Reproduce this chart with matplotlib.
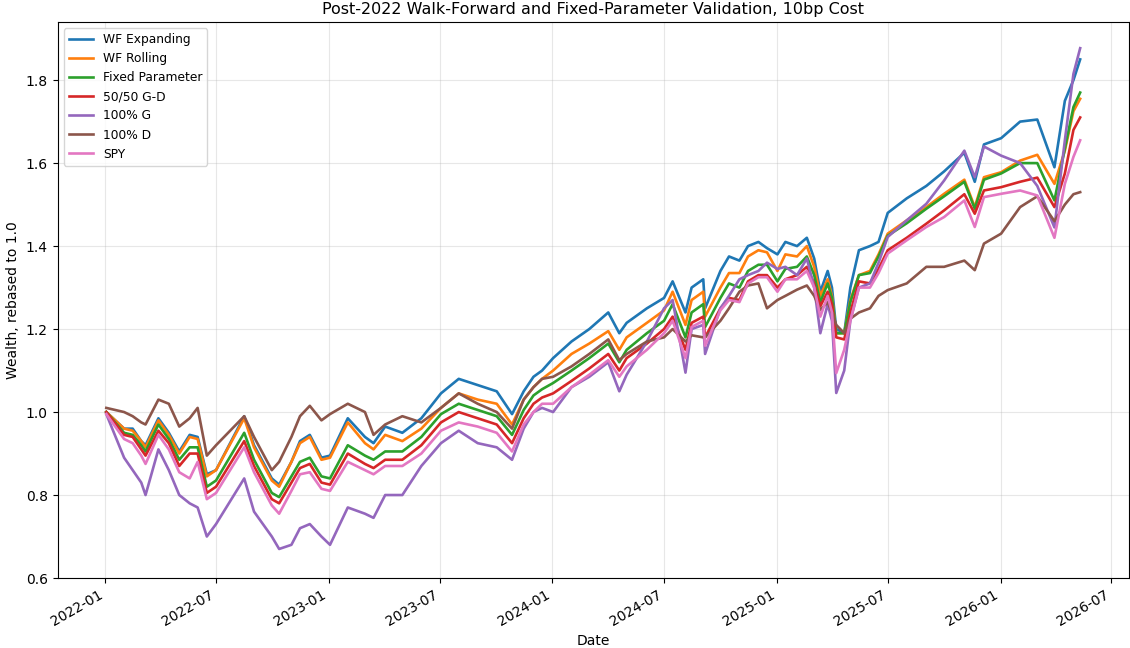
import numpy as np
import pandas as pd
import matplotlib
matplotlib.use("Agg")
import matplotlib.pyplot as plt
import matplotlib.dates as mdates

# ---- data (wealth, rebased to 1.0) ----
dates = [
    "2022-01-03", "2022-02-01", "2022-02-15", "2022-03-01", "2022-03-08", "2022-03-29",
    "2022-04-15", "2022-05-02", "2022-05-19", "2022-06-01", "2022-06-16", "2022-07-01",
    "2022-08-16", "2022-09-01", "2022-09-30", "2022-10-12", "2022-11-01", "2022-11-15",
    "2022-12-01", "2022-12-20", "2023-01-03", "2023-02-01", "2023-03-01", "2023-03-15",
    "2023-04-03", "2023-05-01", "2023-06-01", "2023-07-03", "2023-08-01", "2023-09-01",
    "2023-10-02", "2023-10-27", "2023-11-15", "2023-12-01", "2023-12-15", "2024-01-02",
    "2024-02-01", "2024-03-01", "2024-04-01", "2024-04-19", "2024-05-01", "2024-06-03",
    "2024-07-01", "2024-07-15", "2024-08-05", "2024-08-15", "2024-09-03", "2024-09-06",
    "2024-10-01", "2024-10-15", "2024-11-01", "2024-11-15", "2024-12-02", "2024-12-16",
    "2025-01-02", "2025-01-15", "2025-02-03", "2025-02-19", "2025-03-03", "2025-03-13",
    "2025-03-25", "2025-04-01", "2025-04-08", "2025-04-21", "2025-05-01", "2025-05-15",
    "2025-06-02", "2025-06-16", "2025-07-01", "2025-08-01", "2025-09-02", "2025-10-01",
    "2025-11-03", "2025-11-20", "2025-12-05", "2026-01-02", "2026-02-02", "2026-03-02",
    "2026-03-30", "2026-04-16", "2026-04-30", "2026-05-11",
]

wf_expanding = [
    1.00, 0.96, 0.96, 0.93, 0.92, 0.985, 0.95, 0.905, 0.945, 0.94, 0.85, 0.86,
    0.99, 0.92, 0.84, 0.825, 0.88, 0.93, 0.945, 0.89, 0.895, 0.985, 0.94, 0.925,
    0.965, 0.95, 0.985, 1.045, 1.08, 1.065, 1.05, 0.995, 1.05, 1.085, 1.10, 1.13,
    1.17, 1.20, 1.24, 1.19, 1.215, 1.25, 1.275, 1.315, 1.24, 1.30, 1.32, 1.25,
    1.34, 1.375, 1.365, 1.40, 1.41, 1.395, 1.38, 1.41, 1.40, 1.42, 1.37, 1.29,
    1.34, 1.30, 1.20, 1.19, 1.30, 1.39, 1.40, 1.41, 1.48, 1.515, 1.545, 1.58,
    1.625, 1.555, 1.645, 1.66, 1.70, 1.705, 1.59, 1.75, 1.80, 1.85,
]
wf_rolling = [
    1.00, 0.96, 0.955, 0.93, 0.915, 0.98, 0.945, 0.90, 0.94, 0.935, 0.845, 0.86,
    0.985, 0.915, 0.835, 0.82, 0.88, 0.925, 0.94, 0.885, 0.89, 0.975, 0.925, 0.91,
    0.945, 0.93, 0.96, 1.01, 1.045, 1.03, 1.02, 0.97, 1.03, 1.06, 1.08, 1.10,
    1.14, 1.165, 1.195, 1.15, 1.18, 1.215, 1.245, 1.29, 1.21, 1.27, 1.29, 1.23,
    1.30, 1.335, 1.335, 1.375, 1.39, 1.385, 1.34, 1.38, 1.375, 1.40, 1.35, 1.28,
    1.32, 1.28, 1.19, 1.19, 1.27, 1.33, 1.34, 1.38, 1.43, 1.462, 1.494, 1.526,
    1.56, 1.494, 1.566, 1.578, 1.606, 1.62, 1.55, 1.63, 1.725, 1.755,
]
fixed_param = [
    1.00, 0.95, 0.945, 0.92, 0.905, 0.97, 0.935, 0.885, 0.915, 0.915, 0.82, 0.835,
    0.95, 0.885, 0.805, 0.795, 0.845, 0.88, 0.89, 0.845, 0.84, 0.92, 0.895, 0.885,
    0.905, 0.905, 0.94, 0.995, 1.02, 1.005, 0.99, 0.945, 1.005, 1.04, 1.055, 1.07,
    1.10, 1.13, 1.165, 1.12, 1.15, 1.19, 1.22, 1.26, 1.18, 1.24, 1.26, 1.205,
    1.275, 1.31, 1.30, 1.34, 1.355, 1.355, 1.315, 1.345, 1.35, 1.375, 1.33, 1.265,
    1.31, 1.275, 1.19, 1.19, 1.265, 1.33, 1.335, 1.375, 1.425, 1.455, 1.49, 1.52,
    1.555, 1.49, 1.56, 1.575, 1.60, 1.60, 1.51, 1.635, 1.735, 1.77,
]
gd_5050 = [
    1.00, 0.945, 0.94, 0.91, 0.895, 0.955, 0.925, 0.87, 0.90, 0.90, 0.805, 0.82,
    0.93, 0.87, 0.79, 0.78, 0.83, 0.865, 0.875, 0.83, 0.825, 0.90, 0.875, 0.865,
    0.885, 0.885, 0.92, 0.975, 1.00, 0.985, 0.97, 0.925, 0.985, 1.02, 1.035, 1.045,
    1.075, 1.105, 1.14, 1.10, 1.13, 1.165, 1.20, 1.23, 1.15, 1.215, 1.23, 1.18,
    1.25, 1.275, 1.27, 1.315, 1.33, 1.33, 1.30, 1.32, 1.33, 1.35, 1.31, 1.255,
    1.29, 1.26, 1.18, 1.175, 1.24, 1.315, 1.31, 1.345, 1.39, 1.42, 1.454, 1.486,
    1.525, 1.478, 1.534, 1.542, 1.555, 1.565, 1.494, 1.575, 1.68, 1.71,
]
g_100 = [
    0.995, 0.89, 0.86, 0.83, 0.80, 0.91, 0.86, 0.80, 0.78, 0.77, 0.70, 0.73,
    0.84, 0.76, 0.70, 0.67, 0.68, 0.72, 0.73, 0.70, 0.68, 0.77, 0.755, 0.745,
    0.80, 0.80, 0.87, 0.925, 0.955, 0.925, 0.915, 0.885, 0.96, 1.00, 1.01, 1.00,
    1.06, 1.085, 1.12, 1.05, 1.09, 1.17, 1.25, 1.27, 1.095, 1.20, 1.21, 1.14,
    1.25, 1.28, 1.32, 1.33, 1.34, 1.36, 1.345, 1.35, 1.33, 1.37, 1.30, 1.19,
    1.26, 1.22, 1.046, 1.10, 1.22, 1.30, 1.31, 1.36, 1.422, 1.462, 1.502, 1.558,
    1.63, 1.566, 1.64, 1.618, 1.60, 1.545, 1.445, 1.655, 1.815, 1.877,
]
d_100 = [
    1.01, 1.00, 0.99, 0.975, 0.97, 1.03, 1.02, 0.965, 0.985, 1.01, 0.895, 0.92,
    0.99, 0.94, 0.86, 0.88, 0.94, 0.99, 1.015, 0.98, 0.995, 1.02, 1.00, 0.945,
    0.97, 0.99, 0.975, 1.01, 1.045, 1.02, 1.00, 0.96, 1.03, 1.06, 1.08, 1.085,
    1.11, 1.14, 1.175, 1.125, 1.14, 1.17, 1.18, 1.20, 1.17, 1.185, 1.18, 1.18,
    1.22, 1.25, 1.29, 1.305, 1.31, 1.25, 1.27, 1.28, 1.295, 1.305, 1.28, 1.246,
    1.265, 1.24, 1.21, 1.19, 1.225, 1.24, 1.25, 1.28, 1.294, 1.31, 1.35, 1.35,
    1.365, 1.342, 1.406, 1.43, 1.494, 1.52, 1.46, 1.50, 1.525, 1.53,
]
spy = [
    0.995, 0.935, 0.925, 0.895, 0.875, 0.945, 0.91, 0.855, 0.84, 0.88, 0.79, 0.805,
    0.915, 0.855, 0.775, 0.755, 0.81, 0.85, 0.855, 0.815, 0.81, 0.88, 0.86, 0.85,
    0.87, 0.87, 0.90, 0.955, 0.975, 0.965, 0.95, 0.905, 0.97, 1.00, 1.02, 1.02,
    1.06, 1.09, 1.125, 1.085, 1.11, 1.15, 1.19, 1.22, 1.13, 1.205, 1.22, 1.16,
    1.245, 1.27, 1.265, 1.31, 1.325, 1.325, 1.29, 1.32, 1.32, 1.34, 1.30, 1.23,
    1.28, 1.24, 1.094, 1.15, 1.22, 1.30, 1.30, 1.335, 1.382, 1.414, 1.446, 1.47,
    1.51, 1.446, 1.518, 1.526, 1.534, 1.522, 1.42, 1.55, 1.615, 1.655,
]

labels = ["WF Expanding", "WF Rolling", "Fixed Parameter", "50/50 G-D",
          "100% G", "100% D", "SPY"]
colors = ["#1f77b4", "#ff7f0e", "#2ca02c", "#d62728", "#9467bd", "#8c564b", "#e377c2"]

df = pd.DataFrame({lab: vals for lab, vals in zip(
    labels, [wf_expanding, wf_rolling, fixed_param, gd_5050, g_100, d_100, spy])},
    index=pd.to_datetime(dates))

fig, ax = plt.subplots(figsize=(11.3, 6.48), dpi=100)
fig.subplots_adjust(left=0.051, right=0.999, bottom=0.108, top=0.966)

for lab, col in zip(labels, colors):
    ax.plot(df.index, df[lab], color=col, lw=1.9, label=lab)

ax.set_ylim(0.6, 1.94)
ax.xaxis.set_major_locator(mdates.MonthLocator(bymonth=[1, 7]))
ax.xaxis.set_major_formatter(mdates.DateFormatter("%Y-%m"))
for t in ax.get_xticklabels():
    t.set_rotation(30)
    t.set_ha("right")
ax.grid(True, alpha=0.3)
ax.set_title("Post-2022 Walk-Forward and Fixed-Parameter Validation, 10bp Cost", fontsize=11.5)
ax.set_xlabel("Date")
ax.set_ylabel("Wealth, rebased to 1.0")
ax.legend(loc="upper left", fontsize=8.8)

fig.savefig("out.png", dpi=100)
